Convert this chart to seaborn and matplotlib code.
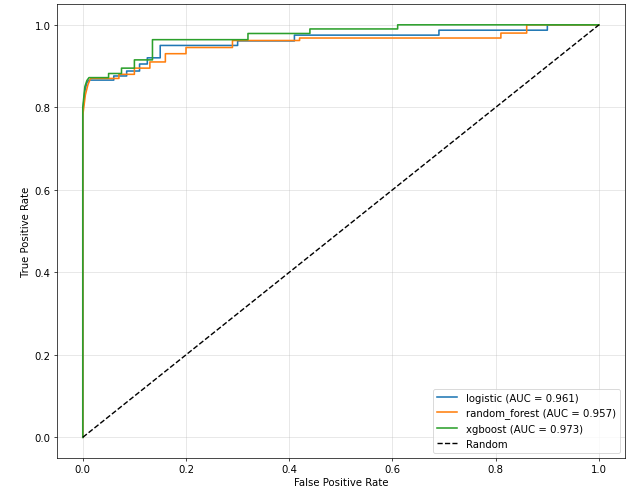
import pandas as pd
import seaborn as sns
import matplotlib
matplotlib.use("Agg")
import matplotlib.pyplot as plt

# ROC curve vertices (fpr, tpr)
logistic_fpr = [0.0, 0.0, 0.004, 0.008, 0.012, 0.06, 0.06, 0.085, 0.085, 0.11, 0.11, 0.125, 0.125, 0.15,
                0.15, 0.30, 0.30, 0.41, 0.41, 0.69, 0.69, 0.90, 0.90, 1.0]
logistic_tpr = [0.0, 0.79, 0.84, 0.86, 0.866, 0.866, 0.876, 0.876, 0.888, 0.888, 0.905, 0.905, 0.92, 0.92,
                0.95, 0.95, 0.961, 0.961, 0.975, 0.975, 0.987, 0.987, 1.0, 1.0]

rf_fpr = [0.0, 0.0, 0.005, 0.01, 0.015, 0.07, 0.07, 0.10, 0.10, 0.13, 0.13, 0.16, 0.16, 0.20, 0.20,
          0.29, 0.29, 0.42, 0.42, 0.81, 0.81, 0.86, 0.86, 1.0]
rf_tpr = [0.0, 0.78, 0.83, 0.855, 0.87, 0.87, 0.88, 0.88, 0.895, 0.895, 0.91, 0.91, 0.93, 0.93, 0.945,
          0.945, 0.962, 0.962, 0.968, 0.968, 0.98, 0.98, 1.0, 1.0]

xgb_fpr = [0.0, 0.0, 0.004, 0.008, 0.012, 0.05, 0.05, 0.075, 0.075, 0.10, 0.10, 0.135, 0.135, 0.32, 0.32,
           0.44, 0.44, 0.61, 0.61, 1.0]
xgb_tpr = [0.0, 0.80, 0.85, 0.865, 0.872, 0.872, 0.882, 0.882, 0.895, 0.895, 0.915, 0.915, 0.964, 0.964,
           0.979, 0.979, 0.99, 0.99, 1.0, 1.0]

models = ["logistic", "random_forest", "xgboost"]
aucs = [0.961, 0.957, 0.973]
diag = [0.0, 1.0]

curves = {"logistic": (logistic_fpr, logistic_tpr),
          "random_forest": (rf_fpr, rf_tpr),
          "xgboost": (xgb_fpr, xgb_tpr)}

rows = []
for m, auc in zip(models, aucs):
    fpr, tpr = curves[m]
    label = f"{m} (AUC = {auc:.3f})"
    for f, t in zip(fpr, tpr):
        rows.append({"fpr": f, "tpr": t, "model": label})
df = pd.DataFrame(rows)

plt.rcParams['font.family'] = ['DejaVu Sans']
plt.rcParams['font.size'] = 11.5
fig, ax = plt.subplots(figsize=(10, 7.8), dpi=63.3)
fig.subplots_adjust(left=0.09, right=0.987, bottom=0.071, top=0.99)

sns.lineplot(data=df, x="fpr", y="tpr", hue="model", sort=False, estimator=None,
             units="model", palette=["#1f77b4", "#ff7f0e", "#2ca02c"], linewidth=1.8, ax=ax)
ax.plot(diag, diag, "k--", label="Random", linewidth=1.6)

ax.set_xlabel("False Positive Rate")
ax.set_ylabel("True Positive Rate")
ax.grid(True, alpha=0.4)
ax.legend(loc="lower right", title=None)

plt.savefig("out.png", dpi=63.3)
